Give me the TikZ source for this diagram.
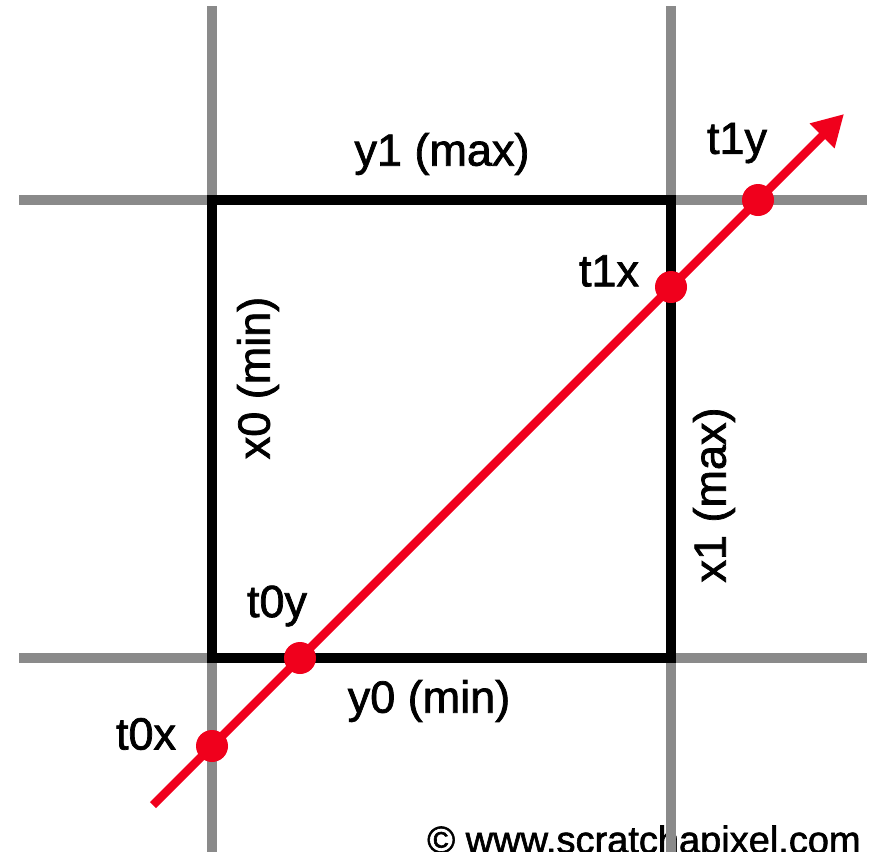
\documentclass[tikz,border=0pt]{standalone}
\usepackage{fontspec}
\setmainfont{Liberation Sans}
\newfontfamily\lblfont[FakeBold=1.6]{Liberation Sans}
\usetikzlibrary{arrows.meta}
\definecolor{gridgray}{RGB}{138,138,138}
\definecolor{rayred}{RGB}{240,0,28}
\tikzset{
  gridline/.style={draw=gridgray, line width=10pt},
  boxline/.style={draw=black, line width=10pt, line join=miter},
  ray/.style={draw=rayred, line width=8.5pt, -{Triangle[length=31pt,width=33pt]}},
  hit/.style={circle, fill=rayred, minimum size=32pt, inner sep=0pt},
  lbl/.style={inner sep=0pt, font=\lblfont\fontsize{45}{54}\selectfont},
  credit/.style={inner sep=0pt, font=\lblfont\fontsize{38}{46}\selectfont}
}
\begin{document}
\begin{tikzpicture}[x=1pt,y=-1pt]
\useasboundingbox (0,0) rectangle (871,852);
\clip (0,0) rectangle (871,852);
% credit
\node[credit, anchor=base west] (cr) at (427,853) {© www.scratchapixel.com};
% grid lines
\draw[gridline] (212,6) -- (212,860);
\draw[gridline] (671,6) -- (671,860);
\draw[gridline] (19,200) -- (867,200);
\draw[gridline] (19,658) -- (867,658);
% box
\draw[boxline] (212,200) rectangle (671,658);
% ray
\coordinate (rs) at (153,805);
\coordinate (re) at (844,114);
\draw[ray] (rs) -- (re);
% hits
\node[hit] (t0xd) at (212,746) {};
\node[hit] (t0yd) at (300,658) {};
\node[hit] (t1xd) at (671,287) {};
\node[hit] (t1yd) at (758,200) {};
% labels
\node[lbl] (y1) at (442,154) {y1 (max)};
\node[lbl] (y0) at (429,701) {y0 (min)};
\node[lbl, rotate=90] (x0) at (258,378) {x0 (min)};
\node[lbl, rotate=90] (x1) at (714,495) {x1 (max)};
\node[lbl] (t1y) at (737,143) {t1y};
\node[lbl] (t1x) at (609,271) {t1x};
\node[lbl] (t0y) at (277,606) {t0y};
\node[lbl] (t0x) at (146,734) {t0x};
\end{tikzpicture}
\end{document}
